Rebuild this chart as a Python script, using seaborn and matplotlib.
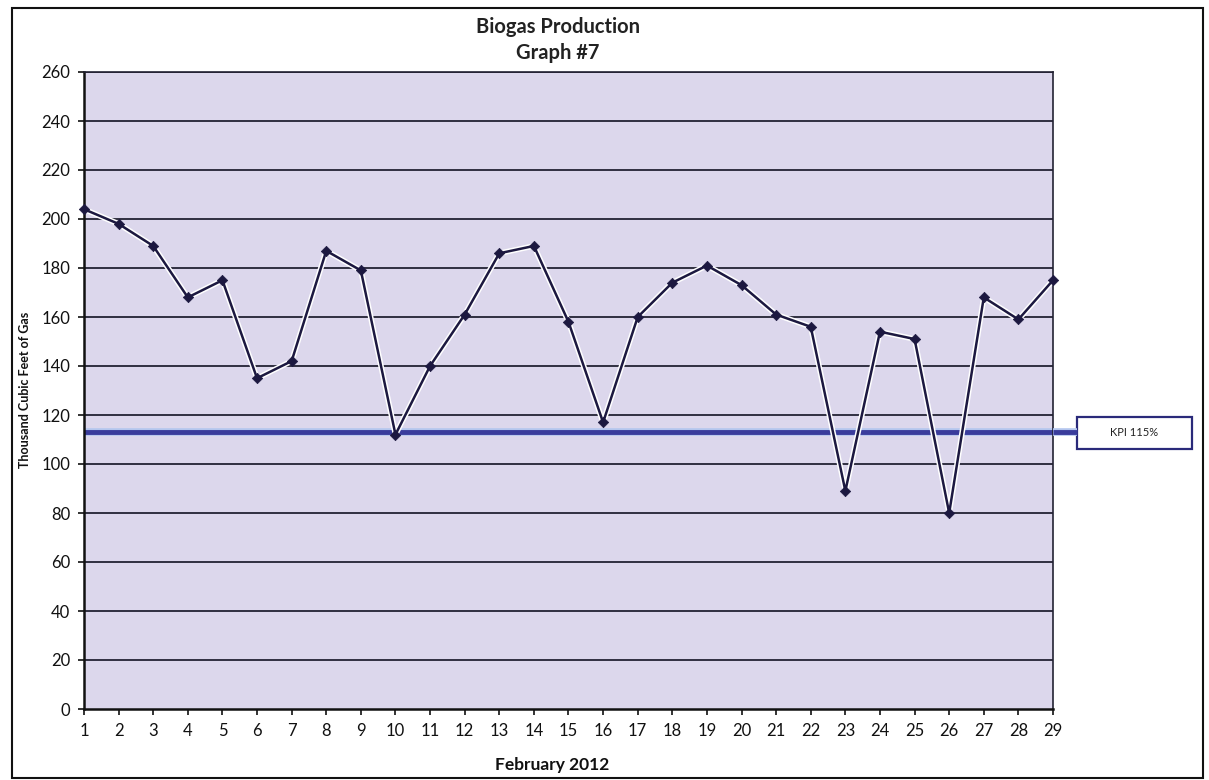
import matplotlib
matplotlib.use("Agg")
import matplotlib.pyplot as plt
import matplotlib.patheffects as pe
from matplotlib.patches import Rectangle
import seaborn as sns
import pandas as pd

days = list(range(1, 30))
production = [204, 198, 189, 168, 175, 135, 142, 187, 179, 112,
              140, 161, 186, 189, 158, 117, 160, 174, 181, 173,
              161, 156, 89, 154, 151, 80, 168, 159, 175]
kpi_value = 113
kpi_label = "KPI 115%"
title = "Biogas Production\nGraph #7"
x_label = "February 2012"
y_label = "Thousand Cubic Feet of Gas"
y_ticks = list(range(0, 261, 20))

sns.set_theme(style="white")
plt.rcParams['font.family'] = ['Lato', 'DejaVu Sans']

df = pd.DataFrame({"day": days, "production": production})

fig = plt.figure(figsize=(12.09, 7.8), dpi=100)
ax = fig.add_axes([84/1209, 1-709/780, (1053-84)/1209, (709-72)/780])
ax.set_facecolor("#dcd7ec")

for yv in y_ticks[1:]:
    ax.axhline(yv, color="#222233", lw=1.3, zorder=1)

kpi_pe = [pe.Stroke(linewidth=5.5, foreground="#b4c6ee", capstyle="butt"),
          pe.Normal()]
ax.axhline(kpi_value, color="#3a3c9c", lw=3.5, zorder=2, path_effects=kpi_pe,
           solid_capstyle="butt")

sns.lineplot(data=df, x="day", y="production", ax=ax, color="#1c1840",
             lw=1.8, zorder=4, clip_on=False,
             path_effects=[pe.Stroke(linewidth=4, foreground="white"), pe.Normal()])
sns.scatterplot(data=df, x="day", y="production", ax=ax, color="#1c1840",
                marker="D", s=28, edgecolor="#1c1840", linewidth=0.5,
                zorder=5, clip_on=False)

ax.set_xlim(1, 29)
ax.set_ylim(0, 260)
ax.set_xticks(days)
ax.set_xticklabels([str(d) for d in days], fontsize=12, color="#111111")
ax.set_yticks(y_ticks)
ax.set_yticklabels([str(v) for v in y_ticks], fontsize=12, color="#111111")
ax.tick_params(axis="both", which="both", direction="out", length=4, width=1.2,
               color="#111111", left=True, bottom=True, pad=6)
for s in ["left", "bottom"]:
    ax.spines[s].set_color("#111111")
    ax.spines[s].set_linewidth(1.8)
for s in ["top", "right"]:
    ax.spines[s].set_color("#222233")
    ax.spines[s].set_linewidth(1.2)

ax.set_xlabel("")
ax.set_ylabel("")
fig.text(552/1209, 1-765/780, x_label, ha="center", va="center",
         fontsize=12.5, fontweight="bold", color="#111111")
fig.text(25/1209, 1-390/780, y_label, ha="center", va="center", rotation=90,
         fontsize=9, fontweight="bold", color="#111111")
fig.text(558/1209, 1-40/780, title, ha="center", va="center",
         fontsize=14.5, fontweight="bold", color="#222222", linespacing=1.35)

# KPI line extension to the label box
kpi_y_fig = 1 - (709 - kpi_value * (709-72)/260) / 780
fig.add_artist(plt.Line2D([1053/1209, 1077/1209], [kpi_y_fig, kpi_y_fig],
                          color="#3a3c9c", lw=3.5, transform=fig.transFigure,
                          solid_capstyle="butt", path_effects=kpi_pe))
fig.add_artist(Rectangle((1077/1209, 1-449/780), (1192-1077)/1209, (449-417)/780,
                         transform=fig.transFigure, facecolor="white",
                         edgecolor="#2a2a7a", lw=1.6))
fig.text((1077+1192)/2/1209, 1-433/780, kpi_label, ha="center", va="center",
         fontsize=8, color="#222222")

# outer border
fig.add_artist(Rectangle((12/1209, 1-778/780), (1203-12)/1209, (778-8)/780,
                         transform=fig.transFigure, facecolor="none",
                         edgecolor="#111111", lw=1.5))

fig.savefig("out.png", dpi=100)
